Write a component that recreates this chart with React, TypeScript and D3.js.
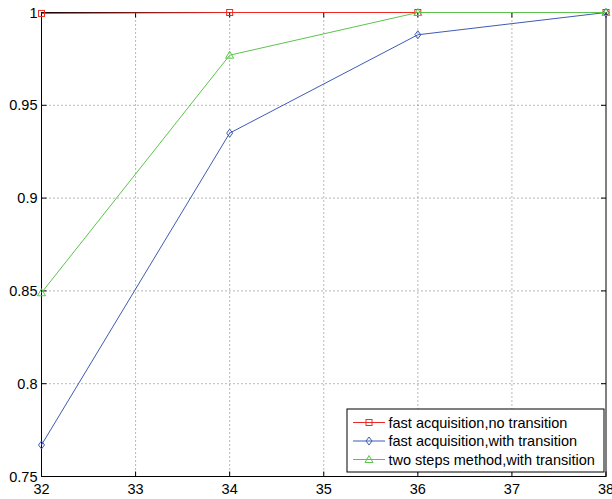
import React from "react";
import * as d3 from "d3";

const xValues = [32, 34, 36, 38];
const noTransition = [0.9995, 1, 1, 1];
const withTransition = [0.767, 0.935, 0.988, 1];
const twoSteps = [0.849, 0.977, 1, 1];
const xTicks = [32, 33, 34, 35, 36, 37, 38];
const yTicks = [0.75, 0.8, 0.85, 0.9, 0.95, 1];
const yTickLabels = ["0.75", "0.8", "0.85", "0.9", "0.95", "1"];
const seriesNames = [
  "fast acquisition,no transition",
  "fast acquisition,with transition",
  "two steps method,with transition",
];

const W = 612;
const H = 499;
const left = 41.5;
const right = 606;
const top = 12.5;
const bottom = 476.5;

const x = d3.scaleLinear().domain([32, 38]).range([left, right]);
const y = d3.scaleLinear().domain([0.75, 1]).range([bottom, top]);

type Marker = "square" | "diamond" | "triangle";

const series: { name: string; values: number[]; color: string; marker: Marker }[] = [
  { name: seriesNames[0], values: noTransition, color: "#ee2a24", marker: "square" },
  { name: seriesNames[1], values: withTransition, color: "#3d5cb5", marker: "diamond" },
  { name: seriesNames[2], values: twoSteps, color: "#5cc44c", marker: "triangle" },
];

function MarkerShape({ kind, cx, cy, color }: { kind: Marker; cx: number; cy: number; color: string }) {
  if (kind === "square") {
    return <rect x={cx - 3} y={cy - 3} width={6} height={6} fill="none" stroke={color} strokeWidth={1} />;
  }
  if (kind === "diamond") {
    return (
      <path
        d={`M${cx},${cy - 4}L${cx + 3},${cy}L${cx},${cy + 4}L${cx - 3},${cy}Z`}
        fill="none"
        stroke={color}
        strokeWidth={1}
      />
    );
  }
  return (
    <path
      d={`M${cx},${cy - 4}L${cx + 4},${cy + 3}L${cx - 4},${cy + 3}Z`}
      fill="none"
      stroke={color}
      strokeWidth={1}
    />
  );
}

export default function App() {
  const line = d3
    .line<number>()
    .x((_, i) => x(xValues[i]))
    .y((d) => y(d));

  const font = "'Liberation Sans', Arial, Helvetica, sans-serif";

  const legX = 347;
  const legY = 409;
  const legW = 257;
  const legH = 63;
  const rowYs = [422.5, 441, 459.5];

  return (
    <svg
      width={W}
      height={H}
      style={{ position: "absolute", left: 0, top: 0, background: "#fff" }}
      fontFamily={font}
    >
      <rect x={0} y={0} width={W} height={H} fill="#fff" />
      {/* grid */}
      {xTicks.slice(1, -1).map((t) => (
        <line
          key={"gx" + t}
          x1={x(t)}
          x2={x(t)}
          y1={top}
          y2={bottom}
          stroke="#333"
          strokeWidth={0.7}
          strokeDasharray="1,3"
        />
      ))}
      {yTicks.slice(1, -1).map((t) => (
        <line
          key={"gy" + t}
          x1={left}
          x2={right}
          y1={y(t)}
          y2={y(t)}
          stroke="#333"
          strokeWidth={0.7}
          strokeDasharray="1,3"
        />
      ))}
      {/* axes box */}
      <rect x={left} y={top} width={right - left} height={bottom - top} fill="none" stroke="#000" strokeWidth={1} />
      {/* ticks */}
      {xTicks.map((t) => (
        <g key={"tx" + t}>
          <line x1={x(t)} x2={x(t)} y1={bottom} y2={bottom - 5} stroke="#000" />
          <line x1={x(t)} x2={x(t)} y1={top} y2={top + 5} stroke="#000" />
          <text x={x(t)} y={494} fontSize={14.5} textAnchor="middle" fill="#000">
            {t}
          </text>
        </g>
      ))}
      {yTicks.map((t, i) => (
        <g key={"ty" + t}>
          <line x1={left} x2={left + 5} y1={y(t)} y2={y(t)} stroke="#000" />
          <line x1={right} x2={right - 5} y1={y(t)} y2={y(t)} stroke="#000" />
          <text x={37.5} y={y(t) + 5} fontSize={14.5} textAnchor="end" fill="#000">
            {yTickLabels[i]}
          </text>
        </g>
      ))}
      {/* series */}
      {series.map((s) => (
        <g key={s.name}>
          <path d={line(s.values) || ""} fill="none" stroke={s.color} strokeWidth={1} />
          {s.values.map((v, i) => (
            <MarkerShape key={i} kind={s.marker} cx={x(xValues[i])} cy={y(v)} color={s.color} />
          ))}
        </g>
      ))}
      {/* legend */}
      <rect x={legX} y={legY} width={legW} height={legH} fill="#fff" stroke="#000" strokeWidth={1} />
      {series.map((s, i) => (
        <g key={"leg" + i}>
          <line x1={353} x2={385} y1={rowYs[i]} y2={rowYs[i]} stroke={s.color} strokeWidth={1} />
          <MarkerShape kind={s.marker} cx={369} cy={rowYs[i]} color={s.color} />
          <text x={388.5} y={rowYs[i] + 5} fontSize={14.5} fill="#000">
            {s.name}
          </text>
        </g>
      ))}
    </svg>
  );
}
